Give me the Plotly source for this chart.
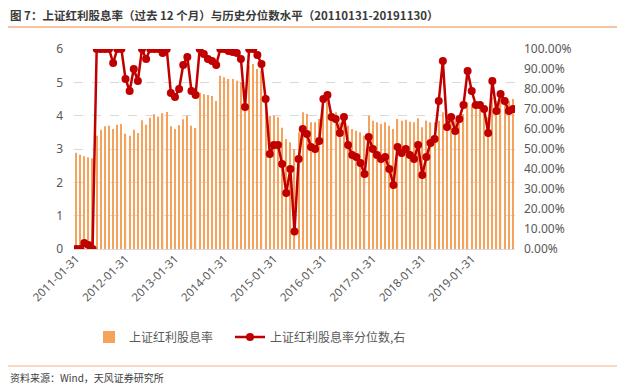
import pandas as pd
import plotly.graph_objects as go

months = [d.strftime("%Y-%m-%d") for d in pd.date_range("2011-01-31", "2019-11-30", freq="ME")]

dividend_yield = [
    2.89, 2.83, 2.78, 2.75, 2.72,
    3.40, 3.58, 3.68, 3.70, 3.60, 3.73, 3.75, 3.46, 3.40, 3.58, 3.48,
    3.86, 3.73, 3.94, 4.04, 3.97, 4.07, 4.11,
    3.68, 3.60, 3.71, 3.89, 4.00, 3.70, 3.63,
    4.69, 4.64, 4.62, 4.59, 4.44,
    5.20, 5.15, 5.10, 5.10, 5.05, 5.00, 4.40,
    5.50, 5.55, 5.40, 5.35, 4.60,
    4.00, 4.00, 3.95, 3.64, 3.30, 3.20, 3.00,
    3.50, 4.10, 4.05, 3.80, 3.80, 3.90, 4.50,
    4.40, 4.15, 4.10, 3.80, 3.85, 3.70, 3.60, 3.55, 3.50, 3.40,
    4.00, 3.85, 3.80, 3.75, 3.80, 3.70, 3.60,
    3.90, 3.85, 3.88, 3.82, 3.80, 3.92, 3.65,
    3.85, 3.80, 3.80, 3.85, 4.10, 3.95, 3.90, 3.85, 3.95, 4.05, 4.40,
    4.35, 4.30, 4.30, 4.30, 3.95, 4.55, 4.45, 4.50, 4.50, 4.45, 4.50,
]

percentile = [
    0, 0, 3, 2, 0,
    100, 100, 100, 100, 93, 100, 100, 85, 79, 90, 84,
    100, 95, 100, 100, 100, 98, 100,
    78, 76, 80, 92, 96, 79, 77,
    100, 97.5, 95, 94, 92,
    100, 100, 99, 98.5, 98, 95, 71,
    100, 100, 97, 92.5, 75,
    47.5, 52, 52, 42.5, 28, 40, 8.7,
    45, 60, 57.5, 51, 50, 54, 75,
    77, 66, 65, 58, 66, 52, 47, 46, 43, 37.5,
    56, 50, 47, 45, 46, 40, 32,
    51, 48, 50, 47, 45, 52, 37,
    46, 53, 55, 74, 94, 61, 66, 59, 65, 72, 89,
    79, 72, 72, 70, 58, 84, 69, 77.5, 74, 69, 70,
]

tick_labels = months[::12]

title_text = "图 7：上证红利股息率（过去 12 个月）与历史分位数水平（20110131-20191130）"
source_text = "资料来源：Wind，天风证券研究所"

cjk = "Noto Sans CJK SC"
grey = "#595959"

# page body has an 8px margin; lay out in reference pixel coordinates minus that offset
OFF = 8
W, H = 625 - OFF, 390 - OFF
L, T = 74 - OFF, 49 - OFF
R = W - (515 - OFF)
B = H - (249 - OFF)
PW, PH = W - L - R, H - T - B


def px_x(x):
    return (x - OFF - L) / PW


def px_y(y):
    return (H - B - (y - OFF)) / PH


fig = go.Figure()
fig.add_trace(go.Bar(
    x=months, y=dividend_yield, name="上证红利股息率",
    marker=dict(color="#F5A35C", line=dict(width=0)),
    legend="legend",
))
fig.add_trace(go.Scatter(
    x=months, y=[p / 100 for p in percentile], name="上证红利股息率分位数,右",
    yaxis="y2", mode="lines+markers",
    line=dict(color="#C00000", width=2.5),
    marker=dict(color="#C00000", size=8),
    legend="legend2",
))

legend_font = dict(family=cjk, size=12, color=grey)
fig.update_layout(
    width=W, height=H,
    margin=dict(l=L, r=R, t=T, b=B, autoexpand=False),
    paper_bgcolor="white", plot_bgcolor="white",
    bargap=0.7,
    showlegend=True,
    legend=dict(orientation="h", x=px_x(89), y=px_y(337), xanchor="left", yanchor="middle",
                font=legend_font, itemwidth=30),
    legend2=dict(orientation="h", x=px_x(230), y=px_y(337), xanchor="left", yanchor="middle",
                 font=legend_font, itemwidth=30),
    xaxis=dict(type="category", tickmode="array", tickvals=tick_labels, ticktext=tick_labels,
               range=[-0.5, len(months) - 0.5], autorange=False,
               tickangle=-45, tickfont=dict(family="Noto Sans", size=11.5, color=grey),
               showgrid=False, showline=False, ticks="", zeroline=False, automargin=False),
    yaxis=dict(range=[0, 6], dtick=1, showgrid=True, gridcolor="#D9D9D9", griddash="dash",
               zeroline=True, zerolinecolor="#D9D9D9", zerolinewidth=1, automargin=False,
               tickfont=dict(family="Noto Sans", size=12, color=grey), ticklabelstandoff=10),
    yaxis2=dict(range=[0, 1], dtick=0.1, tickformat=".2%", overlaying="y", side="right",
                showgrid=False, zeroline=False, automargin=False,
                tickfont=dict(family="Noto Sans", size=12, color=grey), ticklabelstandoff=8),
)

fig.add_annotation(text=title_text, xref="paper", yref="paper", x=px_x(8), y=px_y(15),
                   xanchor="left", yanchor="middle", showarrow=False,
                   font=dict(family=cjk, size=11.5, color="#3A3A3A", weight=600))
fig.add_annotation(text=source_text, xref="paper", yref="paper", x=px_x(8), y=px_y(377),
                   xanchor="left", yanchor="middle", showarrow=False,
                   font=dict(family=cjk, size=10, color="#404040"))
fig.add_shape(type="line", xref="paper", yref="paper", x0=px_x(0), x1=px_x(620),
              y0=px_y(27), y1=px_y(27), line=dict(color="#F4B183", width=1.5))
fig.add_shape(type="line", xref="paper", yref="paper", x0=px_x(0), x1=px_x(620),
              y0=px_y(366), y1=px_y(366), line=dict(color="#F4B183", width=1))

fig.write_html("out.html")
